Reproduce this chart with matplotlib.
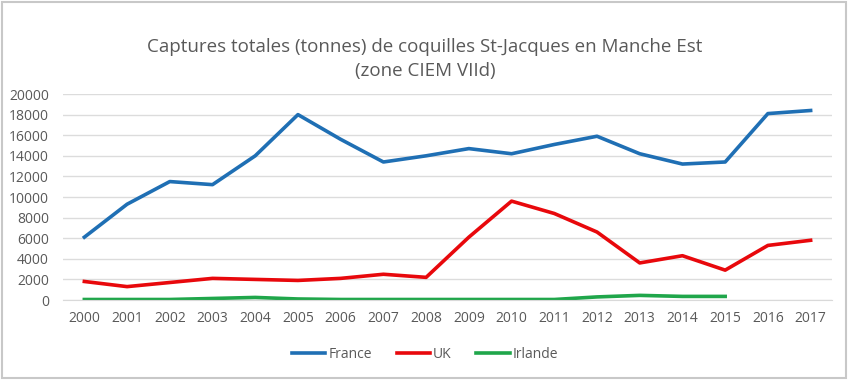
import matplotlib.pyplot as plt
from matplotlib.patches import Rectangle

years = [str(y) for y in range(2000, 2018)]
france = [6100, 9300, 11500, 11200, 14000, 18000, 15600, 13400, 14000,
          14700, 14200, 15100, 15900, 14200, 13200, 13400, 18100, 18400]
uk = [1800, 1300, 1700, 2100, 2000, 1900, 2100, 2500, 2200,
      6100, 9600, 8400, 6600, 3600, 4300, 2900, 5300, 5800]
irlande = [50, 50, 50, 150, 250, 100, 50, 50, 50,
           50, 50, 50, 300, 450, 350, 350]

plt.rcParams['font.family'] = ['Open Sans', 'DejaVu Sans']
text_col = '#595959'

fig = plt.figure(figsize=(8.5, 3.8), dpi=100)
ax = fig.add_axes([0.0741, 0.2105, 0.9047, 0.5421])

x = list(range(len(years)))
ax.plot(x, france, color='#1f6fb4', linewidth=2.6, label='France')
ax.plot(x, uk, color='#e8080c', linewidth=2.6, label='UK')
ax.plot(x[:len(irlande)], irlande, color='#1fa64a', linewidth=2.6, label='Irlande')

ax.set_xlim(-0.5, len(years) - 0.5)
ax.set_ylim(0, 20000)
ax.set_yticks(range(0, 20001, 2000))
ax.set_xticks(x)
ax.set_xticklabels(years)
ax.grid(axis='y', color='#dcdcdc', linewidth=1)
ax.set_axisbelow(True)
for s in ['top', 'right', 'left']:
    ax.spines[s].set_visible(False)
ax.spines['bottom'].set_color('#d9d9d9')
ax.tick_params(length=0, labelsize=10, colors=text_col)
ax.tick_params(axis='x', pad=8)
ax.tick_params(axis='y', pad=10)

fig.text(0.5, 0.845, 'Captures totales (tonnes) de coquilles St-Jacques en Manche Est\n(zone CIEM VIId)',
         ha='center', va='center', fontsize=13.5, color=text_col, linespacing=1.45)

fig.legend(loc='center', bbox_to_anchor=(0.5, 0.068), ncol=3, frameon=False,
           fontsize=10, labelcolor=text_col, handlelength=2.4, handletextpad=0.2,
           columnspacing=1.8)

fig.patches.append(Rectangle((0.002, 0.004), 0.993, 0.99, transform=fig.transFigure,
                             fill=False, edgecolor='#c8c8c8', linewidth=1.5))

fig.savefig('out.png', dpi=100)
